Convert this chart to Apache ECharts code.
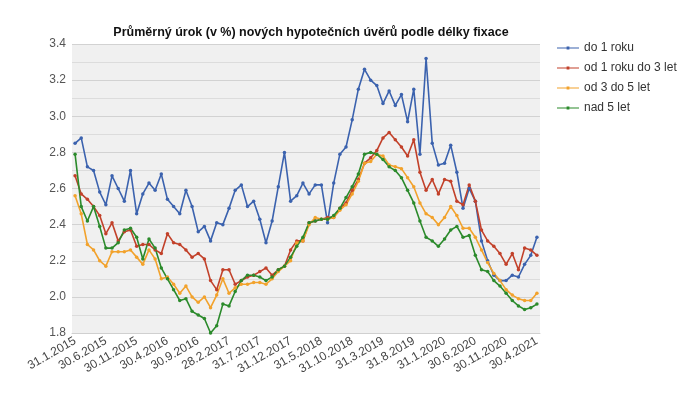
<!DOCTYPE html>
<html><head><meta charset="utf-8">
<script src="https://cdn.jsdelivr.net/npm/echarts@6/dist/echarts.min.js"></script>
<style>html,body{margin:0;padding:0;background:#fff}#c{width:694px;height:395px}</style>
</head><body><div id="c"></div>
<script>
const title = 'Průměrný úrok (v %) nových hypotečních úvěrů podle délky fixace';
const monthEnds = ['31.1.','28.2.','31.3.','30.4.','31.5.','30.6.','31.7.','31.8.','30.9.','31.10.','30.11.','31.12.'];
const categories = [];
for (let y = 2015; y <= 2021; y++) {
  for (let m = 0; m < 12; m++) {
    if (y === 2021 && m > 3) break;
    let d = monthEnds[m];
    if (m === 1 && y % 4 === 0) d = '29.2.';
    categories.push(d + y);
  }
}
const seriesNames = ['do 1 roku', 'od 1 roku do 3 let', 'od 3 do 5 let', 'nad 5 let'];
const do1 = [2.85,2.88,2.72,2.70,2.58,2.51,2.67,2.60,2.53,2.70,2.46,2.57,2.63,2.59,2.68,2.54,2.50,2.46,2.59,2.50,
  2.36,2.39,2.31,2.41,2.40,2.49,2.59,2.62,2.50,2.53,2.43,2.30,2.42,2.61,2.80,2.53,2.56,2.63,2.57,2.62,
  2.62,2.41,2.63,2.79,2.83,2.98,3.15,3.26,3.20,3.17,3.07,3.14,3.06,3.12,2.97,3.15,2.79,3.32,2.85,2.73,
  2.74,2.84,2.69,2.49,2.60,2.53,2.31,2.20,2.12,2.09,2.09,2.12,2.11,2.18,2.23,2.33];
const od1do3 = [2.67,2.57,2.54,2.50,2.45,2.35,2.41,2.31,2.36,2.37,2.28,2.29,2.29,2.26,2.24,2.35,2.30,2.29,2.26,2.22,
  2.24,2.21,2.09,2.04,2.15,2.15,2.07,2.09,2.11,2.12,2.14,2.16,2.12,2.15,2.17,2.26,2.31,2.31,2.41,2.42,
  2.43,2.44,2.44,2.49,2.52,2.59,2.65,2.74,2.77,2.81,2.88,2.91,2.87,2.83,2.78,2.87,2.69,2.59,2.65,2.57,
  2.65,2.64,2.53,2.51,2.62,2.53,2.37,2.31,2.28,2.24,2.18,2.24,2.15,2.27,2.26,2.23];
const od3do5 = [2.56,2.46,2.29,2.26,2.20,2.17,2.25,2.25,2.25,2.26,2.22,2.18,2.26,2.21,2.10,2.11,2.07,2.02,2.06,2.00,
  1.97,2.00,1.94,2.01,2.10,2.02,2.05,2.07,2.07,2.08,2.08,2.07,2.10,2.14,2.17,2.20,2.30,2.31,2.40,2.44,
  2.43,2.43,2.44,2.48,2.51,2.57,2.64,2.74,2.75,2.79,2.78,2.73,2.72,2.71,2.66,2.61,2.52,2.46,2.44,2.40,
  2.44,2.50,2.45,2.38,2.38,2.33,2.26,2.19,2.13,2.09,2.04,2.01,1.99,1.98,1.98,2.02];
const nad5 = [2.79,2.50,2.42,2.50,2.39,2.27,2.27,2.30,2.37,2.38,2.33,2.21,2.32,2.27,2.16,2.10,2.04,1.98,1.99,1.92,
  1.90,1.88,1.80,1.84,1.96,1.95,2.03,2.09,2.12,2.12,2.11,2.09,2.11,2.15,2.17,2.22,2.28,2.33,2.41,2.42,
  2.43,2.43,2.45,2.49,2.55,2.61,2.68,2.79,2.80,2.79,2.76,2.72,2.70,2.66,2.59,2.52,2.42,2.33,2.31,2.28,
  2.32,2.37,2.39,2.33,2.34,2.23,2.15,2.14,2.09,2.06,2.02,1.98,1.95,1.93,1.94,1.96];
const colors = ['#3b62ae', '#c2412a', '#f2a22c', '#2b8a2b'];
const values = [do1, od1do3, od3do5, nad5];

const chart = echarts.init(document.getElementById('c'), null, {renderer: 'canvas'});
chart.setOption({
  animation: false,
  backgroundColor: '#ffffff',
  color: colors,
  title: {
    text: title, left: 306, top: 21, textAlign: 'center',
    textStyle: {fontFamily: 'Liberation Sans, Arial', fontSize: 12.5, fontWeight: 'bold', color: '#111'}
  },
  legend: {
    orient: 'vertical', left: 552, top: 37, itemGap: 8, itemWidth: 22, itemHeight: 3,
    icon: 'path://M0,1 L22,1 L22,2 L0,2 Z M9.6,0 L12.4,0 L12.4,3 L9.6,3 Z',
    textStyle: {fontFamily: 'Liberation Sans, Arial', fontSize: 12, color: '#333', lineHeight: 12},
    data: seriesNames
  },
  grid: {left: 72, right: 154, top: 44, bottom: 62, show: true, backgroundColor: '#f0f0f0', borderWidth: 0},
  xAxis: {
    type: 'category', data: categories, boundaryGap: true,
    axisLine: {show: true, lineStyle: {color: '#d0d0d0'}},
    axisTick: {show: false},
    axisLabel: {interval: 4, rotate: 30, margin: 7, fontFamily: 'Liberation Sans, Arial', fontSize: 12, color: '#444'},
    splitLine: {show: false}
  },
  yAxis: {
    type: 'value', min: 1.8, max: 3.4, interval: 0.2,
    axisLine: {show: false}, axisTick: {show: false},
    axisLabel: {formatter: v => v.toFixed(1), fontFamily: 'Liberation Sans, Arial', fontSize: 12, color: '#555', margin: 6},
    splitLine: {show: true, lineStyle: {color: '#d2d2d2', width: 1}},
    minorTick: {show: false, splitNumber: 2},
    minorSplitLine: {show: true, lineStyle: {color: '#dcdcdc', width: 1}}
  },
  series: seriesNames.map((n, k) => ({
    name: n, type: 'line', data: values[k],
    symbol: 'circle', symbolSize: 3.5, showSymbol: true,
    lineStyle: {width: 1.6, color: colors[k]},
    itemStyle: {color: colors[k]}
  }))
});
</script></body></html>
